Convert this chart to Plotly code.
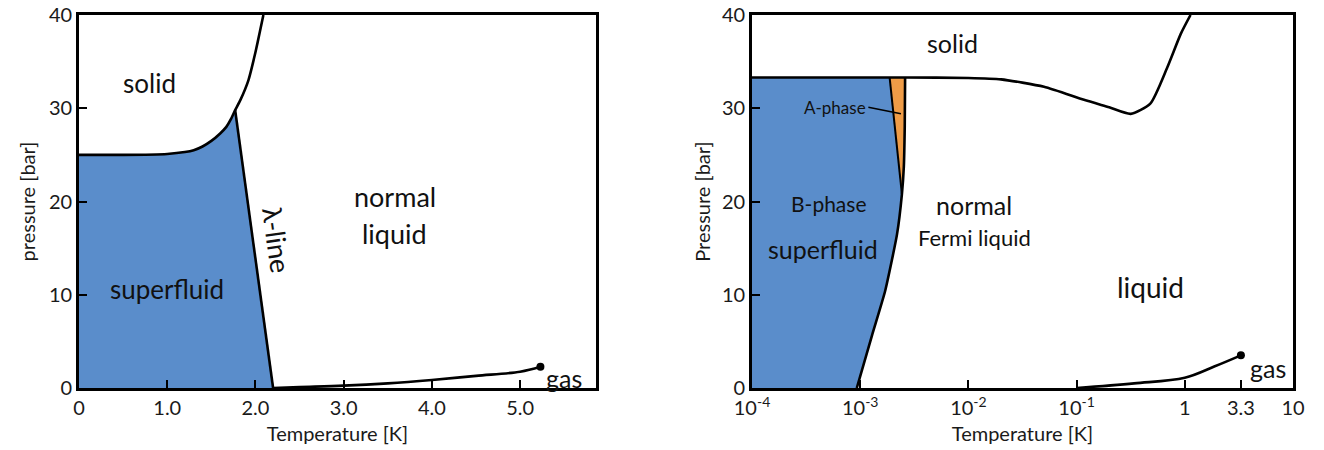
import plotly.graph_objects as go
import numpy as np

# ---------------- data: 4He (left) ----------------
he4_melt_T = [0.0, 0.5, 1.0, 1.2, 1.3, 1.4, 1.5, 1.6, 1.67, 1.72, 1.77, 1.83, 1.92, 2.0, 2.05, 2.09]
he4_melt_P = [25.0, 25.0, 25.1, 25.3, 25.5, 25.9, 26.5, 27.3, 28.0, 28.8, 29.8, 30.9, 33.0, 36.0, 38.2, 40.0]
he4_lambda_T = [1.77, 2.2]
he4_lambda_P = [29.8, 0.0]
he4_vap_T = [2.2, 2.5, 3.0, 3.5, 4.0, 4.5, 5.0, 5.23]
he4_vap_P = [0.0, 0.1, 0.25, 0.5, 0.86, 1.3, 1.75, 2.28]
he4_ticks = [0, 1, 2, 3, 4, 5]
he4_ticktext = ["0", "1.0", "2.0", "3.0", "4.0", "5.0"]
he4_xrange = [0, 5.86]

# ---------------- data: 3He (right) ----------------
he3_melt_T = [1e-4, 1e-3, 2.6e-3, 1e-2, 0.02, 0.05, 0.117, 0.2, 0.316, 0.48, 0.69, 0.92, 1.13]
he3_melt_P = [33.3, 33.3, 33.3, 33.25, 33.1, 32.3, 30.9, 30.1, 29.4, 30.5, 34.4, 38.0, 40.0]
he3_tc_T = [0.93e-3, 1.29e-3, 1.70e-3, 2.19e-3, 2.43e-3, 2.53e-3, 2.58e-3, 2.6e-3]
he3_tc_P = [0.0, 5.7, 10.4, 16.5, 20.8, 23.7, 28.0, 33.3]
he3_ab_T = [2.43e-3, 1.87e-3]
he3_ab_P = [20.8, 33.3]
he3_vap_T = [0.1, 0.34, 1.0, 1.87, 3.3]
he3_vap_P = [0.0, 0.5, 1.1, 2.3, 3.5]
he3_ticks = [1e-4, 1e-3, 1e-2, 1e-1, 1, 3.3, 10]
he3_ticktext = ["10<sup>-4</sup>", "10<sup>-3</sup>", "10<sup>-2</sup>", "10<sup>-1</sup>", "1", "3.3", "10"]
he3_xrange_log = [-4, 1]

P_range = [0, 40]
P_ticks = [0, 10, 20, 30, 40]

BLUE = "#5a8dcb"
ORANGE = "#ef9c47"
FONT = "Lato"
LW = 2.6

fig = go.Figure()

# ---------- left panel fills ----------
n_tp = he4_melt_T.index(he4_lambda_T[0])
sf_x = [he4_xrange[0], he4_lambda_T[1]] + he4_melt_T[:n_tp + 1][::-1]
sf_y = [P_range[0], he4_lambda_P[1]] + he4_melt_P[:n_tp + 1][::-1]
fig.add_trace(go.Scatter(x=sf_x, y=sf_y, fill="toself", fillcolor=BLUE, mode="lines",
                         line=dict(width=0), xaxis="x", yaxis="y",
                         hoverinfo="skip", showlegend=False))
fig.add_trace(go.Scatter(x=he4_melt_T, y=he4_melt_P, mode="lines",
                         line=dict(color="black", width=LW, shape="spline", smoothing=0.4),
                         xaxis="x", yaxis="y", showlegend=False))
fig.add_trace(go.Scatter(x=he4_lambda_T, y=he4_lambda_P, mode="lines",
                         line=dict(color="black", width=LW),
                         xaxis="x", yaxis="y", showlegend=False))
fig.add_trace(go.Scatter(x=he4_vap_T, y=he4_vap_P, mode="lines",
                         line=dict(color="black", width=LW, shape="spline"),
                         xaxis="x", yaxis="y", showlegend=False))
fig.add_trace(go.Scatter(x=he4_vap_T[-1:], y=he4_vap_P[-1:], mode="markers",
                         marker=dict(color="black", size=8),
                         xaxis="x", yaxis="y", showlegend=False))

# ---------- right panel fills ----------
n_pcp = he3_tc_T.index(he3_ab_T[0])
b_x = [he3_melt_T[0]] + he3_tc_T[:n_pcp + 1] + [he3_ab_T[1], he3_melt_T[0]]
b_y = [P_range[0]] + he3_tc_P[:n_pcp + 1] + [he3_ab_P[1], he3_melt_P[0]]
fig.add_trace(go.Scatter(x=b_x, y=b_y, fill="toself", fillcolor=BLUE, mode="lines",
                         line=dict(width=0), xaxis="x2", yaxis="y2",
                         hoverinfo="skip", showlegend=False))
a_x = he3_ab_T + he3_tc_T[n_pcp:][::-1]
a_y = he3_ab_P + he3_tc_P[n_pcp:][::-1]
fig.add_trace(go.Scatter(x=a_x, y=a_y, fill="toself", fillcolor=ORANGE, mode="lines",
                         line=dict(width=0), xaxis="x2", yaxis="y2",
                         hoverinfo="skip", showlegend=False))
fig.add_trace(go.Scatter(x=he3_melt_T, y=he3_melt_P, mode="lines",
                         line=dict(color="black", width=LW, shape="spline", smoothing=0.6),
                         xaxis="x2", yaxis="y2", showlegend=False))
fig.add_trace(go.Scatter(x=he3_tc_T, y=he3_tc_P, mode="lines",
                         line=dict(color="black", width=LW, shape="spline", smoothing=0.5),
                         xaxis="x2", yaxis="y2", showlegend=False))
fig.add_trace(go.Scatter(x=he3_ab_T, y=he3_ab_P, mode="lines",
                         line=dict(color="black", width=2),
                         xaxis="x2", yaxis="y2", showlegend=False))
fig.add_trace(go.Scatter(x=he3_vap_T, y=he3_vap_P, mode="lines",
                         line=dict(color="black", width=LW, shape="spline"),
                         xaxis="x2", yaxis="y2", showlegend=False))
fig.add_trace(go.Scatter(x=he3_vap_T[-1:], y=he3_vap_P[-1:], mode="markers",
                         marker=dict(color="black", size=8),
                         xaxis="x2", yaxis="y2", showlegend=False))

# ---------- annotations ----------
def lab(text, x, y, xref, yref, size=26, angle=0, xanchor="center"):
    fig.add_annotation(text=text, x=x, y=y, xref=xref, yref=yref, showarrow=False,
                       font=dict(family=FONT, size=size, color="#111"),
                       textangle=angle, xanchor=xanchor)

lab("solid", 0.8, 32.7, "x", "y")
lab("superfluid", 1.0, 10.6, "x", "y")
lab("λ-line", 2.24, 15.9, "x", "y", size=27, angle=82)
lab("normal", 3.58, 20.5, "x", "y", size=27)
lab("liquid", 3.58, 16.6, "x", "y", size=27)
lab("gas", 5.27, 1.1, "x", "y", size=25, xanchor="left")

lab("solid", -2.151, 37.0, "x2", "y2", size=25)
lab("B-phase", -3.293, 19.8, "x2", "y2", size=21)
lab("superfluid", -3.34, 14.9, "x2", "y2", size=25)
lab("normal", -1.944, 19.6, "x2", "y2", size=25)
lab("Fermi liquid", -1.944, 16.1, "x2", "y2", size=22)
lab("liquid", -0.315, 10.8, "x2", "y2", size=28)
lab("gas", np.log10(3.8), 2.1, "x2", "y2", size=25, xanchor="left")

fig.add_annotation(text="A-phase", x=np.log10(2.38e-3), y=29.4, xref="x2", yref="y2",
                   ax=np.log10(1.19e-3), ay=30.1, axref="x2", ayref="y2",
                   showarrow=True, arrowhead=0, arrowwidth=1.5, arrowcolor="black",
                   xanchor="right", font=dict(family=FONT, size=17, color="#111"))

axis_common = dict(showline=True, linecolor="black", linewidth=2.8, mirror=True,
                   ticks="inside", ticklen=8, tickwidth=2, tickcolor="black",
                   showgrid=False, zeroline=False, automargin=False,
                   tickfont=dict(family=FONT, size=20, color="#1a1a1a"))
title_font = dict(family=FONT, size=20, color="#1a1a1a")

FW, FH = 1324, 450
ML, MR = 79, 31
MT, MB = 15, 450 - 388
W = FW - ML - MR
fig.update_layout(
    width=FW, height=FH,
    margin=dict(l=ML, r=MR, t=MT, b=MB, autoexpand=False),
    paper_bgcolor="white", plot_bgcolor="white",
    xaxis=dict(domain=[0, (596 - 79) / W], range=he4_xrange, tickvals=he4_ticks,
               ticktext=he4_ticktext, title=dict(text="Temperature [K]", font=title_font, standoff=10),
               anchor="y", **axis_common),
    yaxis=dict(domain=[0, 1], range=P_range, tickvals=P_ticks, anchor="x",
               title=dict(text="pressure [bar]", font=title_font, standoff=8), **axis_common),
    xaxis2=dict(domain=[(752 - 79) / W, 1], type="log", range=he3_xrange_log,
                tickvals=he3_ticks, ticktext=he3_ticktext, anchor="y2",
                title=dict(text="Temperature [K]", font=title_font, standoff=10), **axis_common),
    yaxis2=dict(domain=[0, 1], range=P_range, tickvals=P_ticks, anchor="x2",
                title=dict(text="Pressure [bar]", font=title_font, standoff=6), **axis_common),
)

# remove the default page margin so the figure sits at the window's top-left corner
fig.write_html("out.html", config={"displayModeBar": False},
               post_script="document.body.style.margin='0';")
